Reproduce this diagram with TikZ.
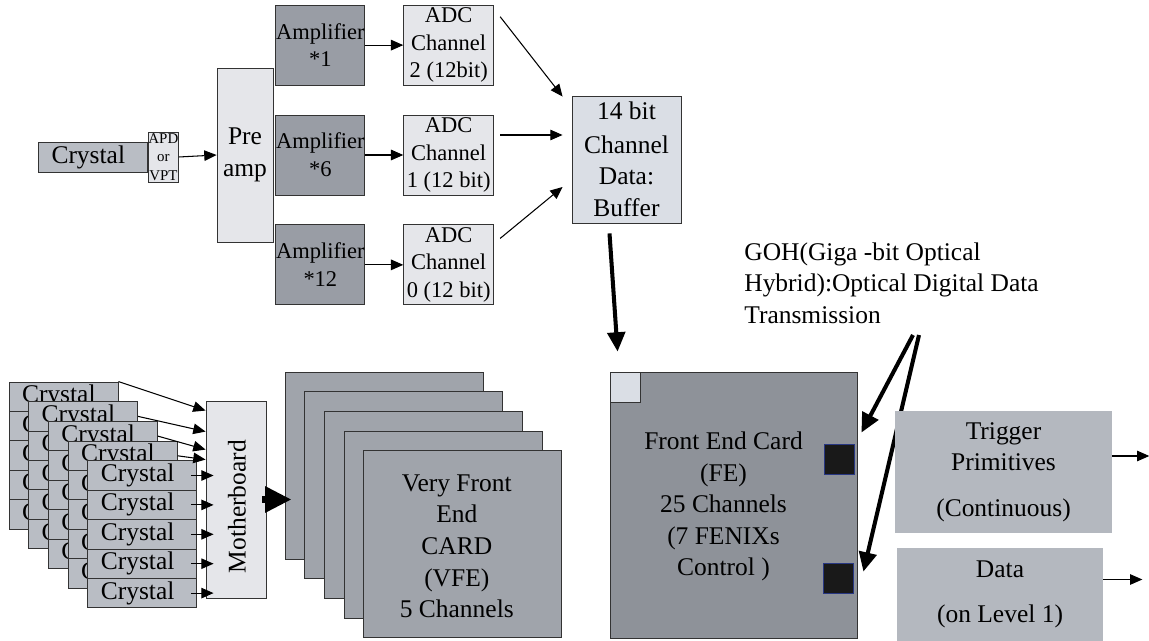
\documentclass[tikz,border=0pt]{standalone}
\usepackage{fontspec}
\setmainfont{Liberation Serif}
\usetikzlibrary{arrows.meta,positioning}

\definecolor{lightbox}{RGB}{229,230,234}
\definecolor{bufbox}{RGB}{218,222,229}
\definecolor{crysbox}{RGB}{185,189,196}
\definecolor{ampbox}{RGB}{153,157,165}
\definecolor{vfebox}{RGB}{160,164,171}
\definecolor{febox}{RGB}{142,146,153}
\definecolor{outbox}{RGB}{180,184,191}
\definecolor{portedge}{RGB}{40,55,130}

\newcommand{\largefnt}{\fontsize{14.5}{18}\selectfont}
\newcommand{\medfnt}{\fontsize{12.8}{15.8}\selectfont}
\newcommand{\smallfnt}{\fontsize{8.5}{10.5}\selectfont}

\begin{document}
\begin{tikzpicture}[x=0.02cm, y=-0.02cm,
    box/.style={draw=black!80, line width=0.5pt, inner sep=0pt, align=center},
    crystalbox/.style={box, fill=crysbox, font=\largefnt, align=left,
      text width=1.66cm, inner xsep=0.26cm},
    ampbox/.style={box, fill=ampbox, font=\medfnt,
      minimum width=1.78cm, minimum height=1.6cm},
    adcbox/.style={box, fill=lightbox, font=\medfnt,
      minimum width=1.8cm, minimum height=1.6cm},
    outputbox/.style={fill=outbox, font=\largefnt, align=center, inner sep=0pt},
    portbox/.style={draw=portedge, fill=black!90, line width=0.5pt,
      inner sep=0pt, minimum size=0.6cm},
    arrow/.style={line width=0.6pt, -{Triangle[length=7pt,width=6pt]}},
    fatarrow/.style={line width=2.3pt, -{Triangle[length=11pt,width=10pt]}},
    blockarrow/.style={line width=4pt, -{Triangle[length=15pt,width=14pt]}}]
  \useasboundingbox (0,0) rectangle (1149,641);

  % Add the single readout chain
  \node[crystalbox,
    minimum height=0.6cm] (crystal) at (93,157) {Crystal};
  \node[box,
    right=0cm of crystal,
    fill=lightbox,
    font=\smallfnt,
    minimum width=0.6cm,
    minimum height=1cm] (apd) {APD\\or\\VPT};
  \node[box,
    fill=lightbox,
    font=\largefnt,
    minimum width=1.12cm,
    minimum height=3.48cm] (preamp) at (245,155) {Pre\\amp};
  \node[ampbox, right=0.04cm of preamp] (amp6) {Amplifier\\*6};
  \node[ampbox, above=0.58cm of amp6] (amp1) {Amplifier\\*1};
  \node[ampbox, below=0.58cm of amp6] (amp12) {Amplifier\\*12};
  \node[adcbox, right=0.76cm of amp1] (adc2) {ADC\\Channel\\2 (12bit)};
  \node[adcbox, right=0.76cm of amp6] (adc1) {ADC\\Channel\\1 (12 bit)};
  \node[adcbox, right=0.76cm of amp12] (adc0) {ADC\\Channel\\0 (12 bit)};
  \node[box,
    fill=bufbox,
    font=\largefnt,
    minimum width=2.18cm,
    minimum height=2.54cm] (buffer) at (626.5,159.5) {14 bit\\[1pt]Channel\\Data:\\Buffer};

  % Connect the chain
  \draw[arrow] (apd.east) -- (preamp.west);
  \foreach \a/\b in {amp1/adc2, amp6/adc1, amp12/adc0}
    \draw[arrow] (\a) -- (\b);
  \draw[arrow] ([shift={(6,12)}]adc2.north east) -- ([shift={(-9,1)}]buffer.north west);
  \draw[arrow] ([shift={(6,-20)}]adc1.east) -- ([shift={(-9,-24.5)}]buffer.west);
  \draw[arrow] ([shift={(6,14)}]adc0.north east) -- ([shift={(-9,27.5)}]buffer.west);

  % Add the crystal stack and the motherboard
  \foreach \c in {0,...,4}
    \foreach \r in {1,...,5}
      \node[crystalbox, minimum height=0.588cm]
        (c\c-\r) at ({63.5+19.7*\c},{382+19.7*\c+29.4*\r-14.7}) {Crystal};
  \node[box,
    fill=lightbox,
    minimum width=1.2cm,
    minimum height=3.94cm] (mb) at (236,499.5) {};
  \node[rotate=90, font=\largefnt, inner sep=0pt] (mbtext) at ([shift={(1,7)}]mb.center) {Motherboard};
  \foreach \c/\a/\dy in {0/north east/10, 1/east/31, 2/east/49, 3/east/59}
    \draw[arrow] (c\c-1.\a) -- ([shift={(0,\dy)}]mb.north west);
  \foreach \r in {1,...,5}
    \draw[arrow, shorten >=-0.16cm] ([shift={(-6,0)}]c4-\r.east) -- (c4-\r.east -| mb.west);

  % Add the very front end cards
  \foreach \c in {0,...,4}
    \node[box,
      fill=vfebox,
      minimum width=3.96cm,
      minimum height=3.74cm] (vfe\c) at ({384+19.7*\c},{465.5+19.7*\c}) {};
  \node[font=\largefnt, align=center, inner sep=0pt] (vfetext) at ([shift={(-6,2)}]vfe4.center)
    {Very Front\\End\\CARD\\(VFE)\\5 Channels};
  \coordinate (mbtip) at (vfe0.west |- mb.east);
  \draw[blockarrow] ([shift={(-4,0)}]mb.east) -- ([shift={(7,0)}]mbtip);

  % Add the front end card
  \node[box,
    fill=febox,
    minimum width=4.94cm,
    minimum height=5.32cm] (fe) at (733.5,505) {};
  \node[box, fill=bufbox, minimum size=0.6cm, anchor=north west] (fecorner) at (fe.north west) {};
  \node[font=\largefnt, align=center, inner sep=0pt] (fetext) at ([shift={(-10,1.5)}]fe.center)
    {Front End Card\\(FE)\\25 Channels\\(7 FENIXs\\Control )};
  \node[portbox, anchor=north east] (port1) at ([shift={(-3,72)}]fe.north east) {};
  \node[portbox, anchor=north east] (port2) at ([shift={(-4,191)}]fe.north east) {};
  \draw[fatarrow] ([shift={(-17,10)}]buffer.south) -- ([shift={(8,-20)}]fe.north west);

  % Add the optical link and the outputs
  \node[font=\largefnt, align=left, anchor=north west, inner sep=0pt] (goh) at (744,242)
    {GOH(Giga -bit Optical\\Hybrid):Optical Digital Data\\Transmission};
  \coordinate (gohA) at (913,335);
  \coordinate (gohB) at (919,335);
  \draw[fatarrow] (gohA) -- ([shift={(4,61)}]fe.north east);
  \draw[fatarrow] (gohB) -- ([shift={(6,200)}]fe.north east);
  \node[outputbox,
    minimum width=4.34cm,
    minimum height=2.44cm] (trigger) at (1003.5,472) {Trigger\\Primitives\\[8pt](Continuous)};
  \node[outputbox,
    minimum width=4.12cm,
    minimum height=1.86cm] (data) at (1000,594.5) {Data\\[8pt](on Level 1)};
  \coordinate (trigout) at ([shift={(37,-16)}]trigger.east);
  \coordinate (dataout) at ([shift={(39,-15)}]data.east);
  \draw[arrow] (trigger.east |- trigout) -- (trigout);
  \draw[arrow] (data.east |- dataout) -- (dataout);
\end{tikzpicture}
\end{document}
